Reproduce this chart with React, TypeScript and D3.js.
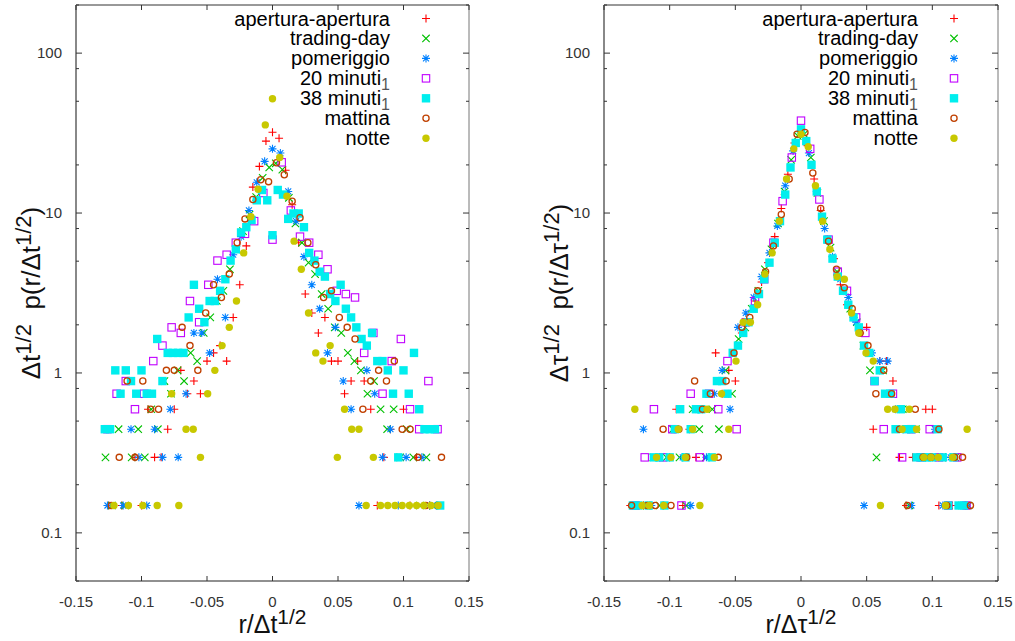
import React from 'react';
import * as d3 from 'd3';

// probability density per histogram count
const densityUnit = 0.1483;

// bin centres (r / sqrt(dt)) for each series
const binsApertura = [-0.13,-0.125,-0.12,-0.115,-0.11,-0.105,-0.1,-0.095,-0.09,-0.085,-0.08,-0.075,-0.07,-0.065,-0.06,-0.055,-0.05,-0.045,-0.04,-0.035,-0.03,-0.025,-0.02,-0.015,-0.01,-0.005,0,0.005,0.01,0.015,0.02,0.025,0.03,0.035,0.04,0.045,0.05,0.055,0.06,0.065,0.07,0.075,0.08,0.085,0.09,0.095,0.1,0.105,0.11,0.115,0.12,0.125,0.13];
const binsTrading = [-0.1275,-0.1225,-0.1175,-0.1125,-0.1075,-0.1025,-0.0975,-0.0925,-0.0875,-0.0825,-0.0775,-0.0725,-0.0675,-0.0625,-0.0575,-0.0525,-0.0475,-0.0425,-0.0375,-0.0325,-0.0275,-0.0225,-0.0175,-0.0125,-0.0075,-0.0025,0.0025,0.0075,0.0125,0.0175,0.0225,0.0275,0.0325,0.0375,0.0425,0.0475,0.0525,0.0575,0.0625,0.0675,0.0725,0.0775,0.0825,0.0875,0.0925,0.0975,0.1025,0.1075,0.1125,0.1175,0.1225,0.1275];
const binsPomeriggio = [-0.126,-0.12,-0.114,-0.108,-0.102,-0.096,-0.09,-0.084,-0.078,-0.072,-0.066,-0.06,-0.054,-0.048,-0.042,-0.036,-0.03,-0.024,-0.018,-0.012,-0.006,0,0.006,0.012,0.018,0.024,0.03,0.036,0.042,0.048,0.054,0.06,0.066,0.072,0.078,0.084,0.09,0.096,0.102,0.108,0.114,0.12,0.126];
const bins20 = [-0.126,-0.119,-0.112,-0.105,-0.098,-0.091,-0.084,-0.077,-0.07,-0.063,-0.056,-0.049,-0.042,-0.035,-0.028,-0.021,-0.014,-0.007,0,0.007,0.014,0.021,0.028,0.035,0.042,0.049,0.056,0.063,0.07,0.077,0.084,0.091,0.098,0.105,0.112,0.119,0.126];
const bins38 = [-0.128,-0.124,-0.12,-0.116,-0.112,-0.108,-0.104,-0.1,-0.096,-0.092,-0.088,-0.084,-0.08,-0.076,-0.072,-0.068,-0.064,-0.06,-0.056,-0.052,-0.048,-0.044,-0.04,-0.036,-0.032,-0.028,-0.024,-0.02,-0.016,-0.012,-0.008,-0.004,0,0.004,0.008,0.012,0.016,0.02,0.024,0.028,0.032,0.036,0.04,0.044,0.048,0.052,0.056,0.06,0.064,0.068,0.072,0.076,0.08,0.084,0.088,0.092,0.096,0.1,0.104,0.108,0.112,0.116,0.12,0.124,0.128];
const binsMattina = [-0.129,-0.123,-0.117,-0.111,-0.105,-0.099,-0.093,-0.087,-0.081,-0.075,-0.069,-0.063,-0.057,-0.051,-0.045,-0.039,-0.033,-0.027,-0.021,-0.015,-0.009,-0.003,0.003,0.009,0.015,0.021,0.027,0.033,0.039,0.045,0.051,0.057,0.063,0.069,0.075,0.081,0.087,0.093,0.099,0.105,0.111,0.117,0.123,0.129];
const binsNotte = [-0.1265,-0.121,-0.1155,-0.11,-0.1045,-0.099,-0.0935,-0.088,-0.0825,-0.077,-0.0715,-0.066,-0.0605,-0.055,-0.0495,-0.044,-0.0385,-0.033,-0.0275,-0.022,-0.0165,-0.011,-0.0055,0,0.0055,0.011,0.0165,0.022,0.0275,0.033,0.0385,0.044,0.0495,0.055,0.0605,0.066,0.0715,0.077,0.0825,0.088,0.0935,0.099,0.1045,0.11,0.1155,0.121,0.1265];

// counts, left panel (normalised by dt)
const tApertura = [0,1,0,1,0,2,1,4,2,2,3,4,7,5,6,5,8,9,10,8,15,24,42,98,132,190,216,198,125,76,44,21,16,12,15,8,8,5,6,8,6,4,1,2,3,0,4,1,2,0,1,1,0];
const tTrading = [2,1,3,1,2,3,2,4,3,6,5,7,6,9,8,12,15,19,22,30,40,52,66,85,112,130,138,126,84,58,44,33,28,21,17,13,12,9,8,7,5,6,4,3,4,2,3,2,1,2,1,0];
const tPomeriggio = [1,0,1,3,2,1,3,2,4,2,5,12,12,9,26,15,37,48,70,105,142,170,160,92,60,36,24,17,9,13,6,4,1,7,5,2,3,1,2,0,2,1,1];
const t20 = [3,5,6,4,5,8,10,13,12,19,14,24,34,37,44,50,60,90,46,140,70,48,44,37,30,22,21,20,9,12,5,8,11,4,3,6,3];
const t38 = [3,3,7,5,7,6,5,7,5,5,11,6,9,9,9,9,15,24,17,14,19,19,22,26,34,40,51,55,61,81,94,81,49,94,88,62,67,67,55,38,34,29,27,21,19,24,17,15,13,11,10,12,8,8,7,5,2,7,5,9,4,3,3,3,1];
const tMattina = [0,1,2,6,2,6,4,4,7,7,13,10,7,16,24,20,28,44,62,82,109,106,139,117,80,63,44,32,20,22,15,13,11,4,6,7,6,8,3,3,2,1,0,2];
const tNotte = [0,1,0,1,0,1,0,1,0,5,1,3,3,2,5,7,10,13,19,38,64,95,240,350,150,86,45,30,16,9,8,10,2,4,3,3,1,2,1,1,1,1,1,1,1,1,1];

// counts, right panel (normalised by dtau)
const tauApertura = [1,0,1,1,0,1,2,4,1,3,2,4,2,9,5,7,6,12,14,19,25,33,48,72,118,185,215,178,110,70,46,35,24,18,15,12,13,3,8,8,6,2,1,2,2,4,4,1,2,1,0,1,0];
const tauTrading = [1,0,1,2,1,2,3,2,1,4,3,2,4,3,7,5,11,13,17,22,30,40,58,92,145,205,210,150,90,60,41,29,22,17,14,10,7,2,7,5,3,4,1,3,2,2,3,2,1,2,1,1];
const tauPomeriggio = [1,3,1,2,0,3,2,1,4,2,5,7,4,13,16,20,27,38,56,100,165,220,160,92,54,36,26,20,14,1,9,8,8,4,3,1,2,2,3,1,2,0,1];
const tau20 = [1,2,4,2,3,1,5,2,5,4,8,3,14,19,26,44,80,150,255,170,82,46,29,22,15,12,6,3,5,2,3,2,3,2,1,2,1];
const tau38 = [1,1,0,1,2,2,1,2,3,4,2,3,4,4,5,2,6,6,5,9,10,12,14,17,21,26,33,44,60,88,130,185,225,190,135,92,64,46,35,27,22,18,15,13,10,9,6,7,5,5,3,4,3,3,2,2,2,2,3,2,1,2,1,1,0];
const tauMattina = [1,0,1,1,3,1,3,2,6,4,5,2,6,9,13,15,22,29,42,66,110,210,215,120,72,45,30,23,17,12,10,5,7,5,3,1,4,2,2,3,1,2,2,1];
const tauNotte = [4,1,1,2,1,2,3,2,3,1,4,2,5,3,8,14,14,18,28,38,60,110,170,210,175,100,60,40,27,26,16,12,9,8,1,4,4,3,4,3,2,2,2,1,2,0,3];

const seriesNames = ['apertura-apertura', 'trading-day', 'pomeriggio', '20 minuti', '38 minuti', 'mattina', 'notte'];
const seriesSubscripts = ['', '', '', '1', '1', '', ''];

const yTickValues = [0.1, 1, 10, 100];
const yTickLabels = ['0.1', '1', '10', '100'];
const xTickValues = [-0.15, -0.1, -0.05, 0, 0.05, 0.1, 0.15];
const xTickLabels = ['-0.15', '-0.1', '-0.05', '0', '0.05', '0.1', '0.15'];
const yMinorValues = [0.05, 0.08, 0.2, 0.5, 0.8, 2, 5, 8, 20, 50, 80, 200];

const colors = ['#ff0000', '#00c000', '#0080ff', '#c000ff', '#00eeee', '#c04000', '#c8c800'];
const kinds = ['plus', 'cross', 'star', 'square', 'fsquare', 'circle', 'fcircle'];
const binsList = [binsApertura, binsTrading, binsPomeriggio, bins20, bins38, binsMattina, binsNotte];
const leftCounts = [tApertura, tTrading, tPomeriggio, t20, t38, tMattina, tNotte];
const rightCounts = [tauApertura, tauTrading, tauPomeriggio, tau20, tau38, tauMattina, tauNotte];

const FONT = '"Liberation Sans", Arial, Helvetica, sans-serif';

function Marker({ kind, cx, cy, color }: { kind: string; cx: number; cy: number; color: string }) {
  const s = 4;
  const sw = 1.1;
  if (kind === 'plus')
    return <path d={`M${cx - s},${cy}H${cx + s}M${cx},${cy - s}V${cy + s}`} stroke={color} strokeWidth={sw} fill="none" />;
  if (kind === 'cross') {
    const c = 3.7;
    return <path d={`M${cx - c},${cy - c}L${cx + c},${cy + c}M${cx - c},${cy + c}L${cx + c},${cy - c}`} stroke={color} strokeWidth={sw} fill="none" />;
  }
  if (kind === 'star') {
    const c = 3;
    return (
      <path
        d={`M${cx - s},${cy}H${cx + s}M${cx},${cy - s}V${cy + s}M${cx - c},${cy - c}L${cx + c},${cy + c}M${cx - c},${cy + c}L${cx + c},${cy - c}`}
        stroke={color}
        strokeWidth={sw}
        fill="none"
      />
    );
  }
  if (kind === 'square')
    return <rect x={cx - 3.7} y={cy - 3.7} width={7.4} height={7.4} fill="none" stroke={color} strokeWidth={sw} />;
  if (kind === 'fsquare') return <rect x={cx - 4.2} y={cy - 4.2} width={8.4} height={8.4} fill={color} />;
  if (kind === 'circle') return <circle cx={cx} cy={cy} r={3.1} fill="none" stroke={color} strokeWidth={1.3} />;
  return <circle cx={cx} cy={cy} r={3.7} fill={color} />;
}

function Panel({ x0, x1, counts, sym }: { x0: number; x1: number; counts: number[][]; sym: string }) {
  const top = 5;
  const bottom = 581;
  const x = d3.scaleLinear().domain([-0.15, 0.15]).range([x0, x1]);
  const y = d3.scaleLog().domain([0.05, 200]).range([bottom, top]);
  const cxMid = (x0 + x1) / 2;
  const cyMid = (top + bottom) / 2;
  const tickColor = '#333';
  return (
    <g>
      {/* frame */}
      <line x1={x0} x2={x1} y1={top} y2={top} stroke="#333" strokeWidth={1} />
      <line x1={x0} x2={x1} y1={bottom} y2={bottom} stroke="#222" strokeWidth={1.2} />
      <line x1={x0} x2={x0} y1={top} y2={bottom} stroke="#888" strokeWidth={2} />
      <line x1={x1} x2={x1} y1={top} y2={bottom} stroke="#777" strokeWidth={1} />
      {/* y ticks */}
      {yTickValues.map((v, i) => (
        <g key={'yt' + i}>
          <line x1={x0} x2={x0 + 6} y1={y(v)} y2={y(v)} stroke={tickColor} />
          <line x1={x1} x2={x1 - 6} y1={y(v)} y2={y(v)} stroke={tickColor} />
          <text x={x0 - 14} y={y(v) + 5} textAnchor="end" fontSize={15} fill="#333" fontFamily={FONT}>
            {yTickLabels[i]}
          </text>
        </g>
      ))}
      {yMinorValues.map((v, i) => (
        <g key={'ym' + i}>
          <line x1={x0} x2={x0 + 3} y1={y(v)} y2={y(v)} stroke={tickColor} />
          <line x1={x1} x2={x1 - 3} y1={y(v)} y2={y(v)} stroke={tickColor} />
        </g>
      ))}
      {/* x ticks */}
      {xTickValues.map((v, i) => (
        <g key={'xt' + i}>
          <line x1={x(v)} x2={x(v)} y1={bottom} y2={bottom - 5} stroke={tickColor} />
          <line x1={x(v)} x2={x(v)} y1={top} y2={top + 5} stroke={tickColor} />
          <text x={x(v)} y={607} textAnchor="middle" fontSize={15} fill="#333" fontFamily={FONT}>
            {xTickLabels[i]}
          </text>
        </g>
      ))}
      {/* axis titles */}
      <text x={cxMid} y={633} textAnchor="middle" fontSize={25} fill="#111" fontFamily={FONT}>
        r/Δ{sym}
        <tspan fontSize={21} dy={-9}>1/2</tspan>
      </text>
      <text
        transform={`translate(${x0 - 36},${cyMid}) rotate(-90)`}
        textAnchor="middle"
        fontSize={26}
        fill="#111"
        fontFamily={FONT}
      >
        Δ{sym}
        <tspan fontSize={22} dy={-9}>1/2</tspan>
        <tspan dy={9}>{'\u00a0 p(r/Δ' + sym}</tspan>
        <tspan fontSize={22} dy={-9}>1/2</tspan>
        <tspan dy={9}>)</tspan>
      </text>
      {/* data */}
      {counts.map((cs, si) => (
        <g key={'s' + si}>
          {cs.map((n, bi) =>
            n > 0 ? (
              <Marker key={bi} kind={kinds[si]} cx={x(binsList[si][bi])} cy={y(n * densityUnit)} color={colors[si]} />
            ) : null
          )}
        </g>
      ))}
      {/* legend */}
      {seriesNames.map((name, i) => {
        const cy = 18.5 + 19.95 * i;
        return (
          <g key={'lg' + i}>
            <text x={x0 + 314} y={cy + 7} textAnchor="end" fontSize={20} fill="#000" fontFamily={FONT}>
              {name}
              {seriesSubscripts[i] ? (
                <tspan fontSize={16} fill="#555" dy={5}>
                  {seriesSubscripts[i]}
                </tspan>
              ) : null}
            </text>
            <Marker kind={kinds[i]} cx={x0 + 350} cy={cy} color={colors[i]} />
          </g>
        );
      })}
    </g>
  );
}

export default function App() {
  return (
    <svg
      width={1015}
      height={641}
      viewBox="0 0 1015 641"
      style={{ position: 'absolute', left: 0, top: 0, background: '#fff' }}
    >
      <rect x={0} y={0} width={1015} height={641} fill="#fff" />
      <Panel x0={76} x1={469} counts={leftCounts} sym="t" />
      <Panel x0={604} x1={998} counts={rightCounts} sym="τ" />
    </svg>
  );
}
